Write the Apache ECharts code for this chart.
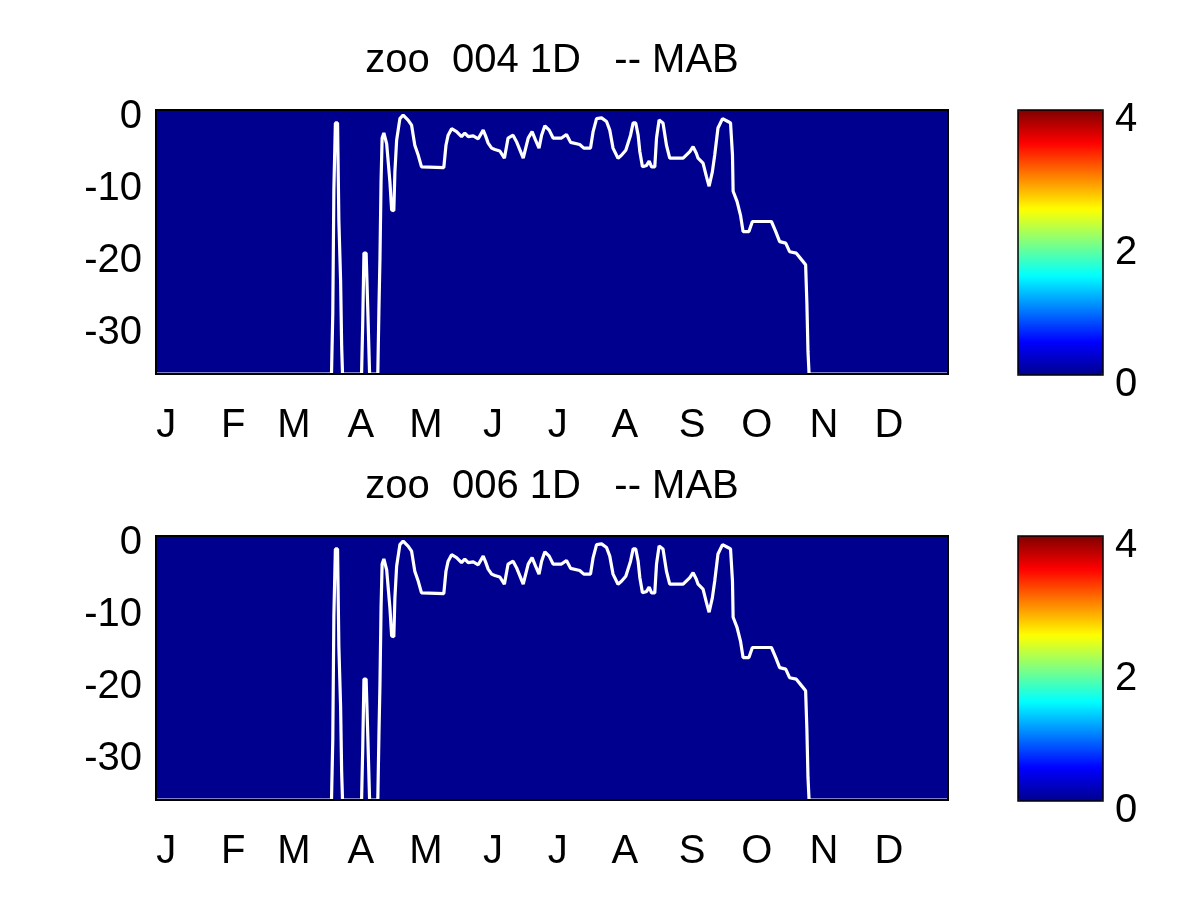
<!DOCTYPE html>
<html>
<head>
<meta charset="utf-8">
<script src="https://cdn.jsdelivr.net/npm/echarts@6/dist/echarts.min.js"></script>
<style>html,body{margin:0;padding:0;background:#fff;}#c{width:1200px;height:900px;}</style>
</head>
<body>
<div id="c"></div>
<script>
// ---- data ----
const titles = ['zoo  004 1D   -- MAB', 'zoo  006 1D   -- MAB'];
const monthLetters = ['J','F','M','A','M','J','J','A','S','O','N','D'];
const monthStartDays = [1,32,60,91,121,152,182,213,244,274,305,335];
const depthTicks = [0,-10,-20,-30];
const colorbarTicks = [0,2,4];
const dayRange = [-3.7, 362.3];
const depthRange = [-36.7, 0];
const colorRange = [0, 4];

// background field (all zero in both panels)
const heatCols = ['c1','c2','c3','c4','c5','c6','c7','c8','c9','c10','c11','c12'];
const heatRows = ['r1','r2','r3','r4'];
const heat004 = [
  [0,0,0,0,0,0,0,0,0,0,0,0],
  [0,0,0,0,0,0,0,0,0,0,0,0],
  [0,0,0,0,0,0,0,0,0,0,0,0],
  [0,0,0,0,0,0,0,0,0,0,0,0]
];
const heat006 = [
  [0,0,0,0,0,0,0,0,0,0,0,0],
  [0,0,0,0,0,0,0,0,0,0,0,0],
  [0,0,0,0,0,0,0,0,0,0,0,0],
  [0,0,0,0,0,0,0,0,0,0,0,0]
];

// white line (day of year, depth)
const mldDays = [-4, 77.4, 78, 78.5, 79.2, 80.2, 80.8, 81.6, 82.1, 82.5,
  91.3, 91.8, 92.4, 93.4, 94.2, 95.0,
  98.8, 99.3, 99.8, 100.3, 100.8, 101.6, 102.9, 104.4, 105.2, 106.2, 106.7, 107.5, 109, 110.5, 112.8, 114.4, 115.9, 117.5, 119,
  129.3, 130.3, 131.3, 132.9, 135.2, 137.5, 139, 140.6, 142.9, 145.2, 147.5, 148.6, 149.8, 151.4, 152.9, 155.2, 157.3,
  159.0, 161.3, 162.9, 166.0, 168.3, 170.1, 171.7, 173.3, 174.5, 176.0,
  178.0, 179.8, 183.7, 186.0, 187.9, 192.1, 194.0, 197.1, 198.3, 199.9,
  202.2, 204.5, 206.0, 207.5, 209.8, 211.4, 213.4, 215.6, 216.8, 218.0,
  219.1, 219.9, 221.1, 223.0, 224.2, 225.3, 226.8, 227.6, 228.8, 230.6,
  232.2, 233.7, 239.9, 243.0, 244.5, 246.0, 246.8, 249.1, 250.7, 251.9,
  253.4, 254.5, 256.0, 258.1, 260.6, 261.8, 262.7, 263.0, 264.8, 266.4,
  267.6, 270.3, 271.9, 280.7, 282.7, 284.5, 287.3, 289.1, 292.2, 294.6,
  296.5, 297.1, 297.6, 298.1, 365];
const mld004 = [-36.7, -36.7, -28.2, -11, -1.8, -1.8, -15.3, -23.6, -32.9, -36.7,
  -36.7, -30, -19.9, -19.9, -28, -36.7,
  -36.7, -28, -20.6, -10, -3.9, -3.2, -4.7, -10, -13.9, -14.0, -8.6, -4.2, -1.2, -0.7, -1.4, -2.1, -4.9, -6.3, -7.9,
  -8.0, -4.9, -3.5, -2.6, -3.0, -3.7, -3.2, -3.7, -3.6, -4.0, -2.8, -3.6, -4.6, -5.3, -5.5, -5.7, -6.7,
  -3.9, -3.5, -4.4, -6.7, -3.9, -3.0, -4.2, -5.3, -3.5, -2.2,
  -2.8, -3.9, -3.9, -3.4, -4.5, -4.8, -5.3, -5.3, -3.0, -1.2,
  -1.1, -1.6, -2.8, -5.3, -6.7, -6.3, -5.6, -3.5, -1.8, -1.8,
  -3.5, -5.8, -7.9, -7.7, -7.1, -7.9, -7.9, -3.9, -1.4, -1.8,
  -4.9, -6.7, -6.7, -5.8, -5.1, -6.0, -6.7, -7.4, -9.3, -10.6,
  -8.6, -6.25, -2.5, -1.2, -1.6, -1.8, -6.25, -11.3, -12.7, -14.6,
  -16.9, -16.9, -15.5, -15.5, -16.9, -18.3, -18.5, -19.7, -19.9, -20.8,
  -21.5, -27, -33.6, -36.7, -36.7];
const mld006 = [-36.7, -36.7, -28.2, -11, -1.8, -1.8, -15.3, -23.6, -32.9, -36.7,
  -36.7, -30, -19.9, -19.9, -28, -36.7,
  -36.7, -28, -20.6, -10, -3.9, -3.2, -4.7, -10, -13.9, -14.0, -8.6, -4.2, -1.2, -0.7, -1.4, -2.1, -4.9, -6.3, -7.9,
  -8.0, -4.9, -3.5, -2.6, -3.0, -3.7, -3.2, -3.7, -3.6, -4.0, -2.8, -3.6, -4.6, -5.3, -5.5, -5.7, -6.7,
  -3.9, -3.5, -4.4, -6.7, -3.9, -3.0, -4.2, -5.3, -3.5, -2.2,
  -2.8, -3.9, -3.9, -3.4, -4.5, -4.8, -5.3, -5.3, -3.0, -1.2,
  -1.1, -1.6, -2.8, -5.3, -6.7, -6.3, -5.6, -3.5, -1.8, -1.8,
  -3.5, -5.8, -7.9, -7.7, -7.1, -7.9, -7.9, -3.9, -1.4, -1.8,
  -4.9, -6.7, -6.7, -5.8, -5.1, -6.0, -6.7, -7.4, -9.3, -10.6,
  -8.6, -6.25, -2.5, -1.2, -1.6, -1.8, -6.25, -11.3, -12.7, -14.6,
  -16.9, -16.9, -15.5, -15.5, -16.9, -18.3, -18.5, -19.7, -19.9, -20.8,
  -21.5, -27, -33.6, -36.7, -36.7];

const jet = ['#00008F','#0000FF','#0080FF','#00FFFF','#80FF80','#FFFF00','#FF8000','#FF0000','#800000'];

// ---- chart ----
const FONT = '"Liberation Sans", Arial, Helvetica, sans-serif';
const FS = 40;
const panels = [
  {top: 110, title: titles[0], heat: heat004, line: mld004, titleTop: 41},
  {top: 536, title: titles[1], heat: heat006, line: mld006, titleTop: 467}
];
const PL = 156, PW = 792, PH = 264;
const CL = 1018, CW = 85, CH = 265;

const option = {
  backgroundColor: '#ffffff',
  animation: false,
  title: [], grid: [], xAxis: [], yAxis: [], series: [], visualMap: []
};

panels.forEach((p, k) => {
  const g = k * 3;
  option.title.push({
    text: p.title, left: 552, top: p.titleTop, textAlign: 'center', padding: 0,
    textStyle: {fontFamily: FONT, fontSize: FS, fontWeight: 'normal', color: '#000'}
  });
  // grid g: heatmap background
  option.grid.push({left: PL, top: p.top, width: PW, height: PH, show: true,
    backgroundColor: jet[0], borderWidth: 0});
  // grid g+1: value axes for the line, with black box on top
  option.grid.push({left: PL, top: p.top, width: PW, height: PH, show: true,
    backgroundColor: 'transparent', borderColor: '#000', borderWidth: 2, z: 10});
  // grid g+2: colorbar axis
  option.grid.push({left: CL, top: p.top, width: CW, height: CH, show: true,
    backgroundColor: 'transparent', borderColor: '#000', borderWidth: 1.5, z: 10});

  option.xAxis.push({type: 'category', gridIndex: g, data: heatCols, show: false});
  option.yAxis.push({type: 'category', gridIndex: g, data: heatRows, show: false});

  option.xAxis.push({
    type: 'value', gridIndex: g + 1, min: dayRange[0], max: dayRange[1],
    axisLine: {show: false}, splitLine: {show: false},
    axisTick: {show: false, customValues: monthStartDays},
    axisLabel: {
      customValues: monthStartDays, margin: 32, color: '#000', fontFamily: FONT, fontSize: FS,
      formatter: v => monthLetters[monthStartDays.indexOf(v)]
    }
  });
  option.yAxis.push({
    type: 'value', gridIndex: g + 1, min: depthRange[0], max: depthRange[1],
    axisLine: {show: false}, splitLine: {show: false},
    axisTick: {show: false, customValues: depthTicks},
    axisLabel: {customValues: depthTicks, margin: 14, color: '#000', fontFamily: FONT, fontSize: FS,
      verticalAlign: 'top', lineHeight: 14}
  });

  option.xAxis.push({type: 'value', gridIndex: g + 2, min: 0, max: 1, show: false});
  option.yAxis.push({
    type: 'value', gridIndex: g + 2, position: 'right', min: colorRange[0], max: colorRange[1], z: 10,
    axisLine: {show: false}, splitLine: {show: false},
    axisTick: {show: false, customValues: colorbarTicks},
    axisLabel: {customValues: colorbarTicks, margin: 12, color: '#000', fontFamily: FONT, fontSize: FS,
      verticalAlign: 'top', lineHeight: 20}
  });

  const heatData = [];
  p.heat.forEach((row, j) => row.forEach((v, i) => heatData.push([i, j, v])));
  const heatIdx = option.series.length;
  option.series.push({type: 'heatmap', xAxisIndex: g, yAxisIndex: g, data: heatData,
    itemStyle: {borderWidth: 0}, emphasis: {disabled: true}});
  option.series.push({type: 'line', xAxisIndex: g + 1, yAxisIndex: g + 1,
    data: mldDays.map((d, i) => [d, p.line[i]]),
    showSymbol: false, symbol: 'none', clip: true, z: 5,
    lineStyle: {color: '#ffffff', width: 3.2}});
  option.series.push({type: 'line', xAxisIndex: g + 2, yAxisIndex: g + 2, data: []});

  option.visualMap.push({
    type: 'continuous', seriesIndex: heatIdx, min: colorRange[0], max: colorRange[1],
    orient: 'vertical', left: CL, top: p.top, itemWidth: CW, itemHeight: CH,
    padding: 0, calculable: false, hoverLink: false, realtime: false,
    text: null, showLabel: false, inRange: {color: jet}
  });
});

const chart = echarts.init(document.getElementById('c'), null, {renderer: 'canvas'});
chart.setOption(option);
</script>
</body>
</html>
